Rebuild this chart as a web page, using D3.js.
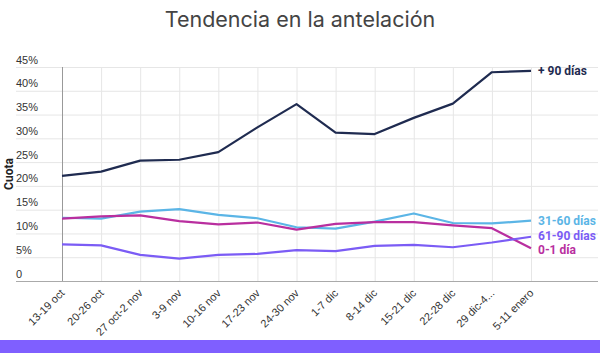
<!DOCTYPE html>
<html lang="es">
<head>
  <meta charset="UTF-8">
  <title>Tendencia en la antelación</title>
  <script src="https://cdn.jsdelivr.net/npm/d3@7"></script>
  <style>
    body { margin: 0; background: #fff; }
    svg { display: block; font-family: Roboto, 'Noto Sans', sans-serif; }
  </style>
</head>
<body>
<svg></svg>
<script>
  const width = 600, height = 353
  const margin = {top: 67, right: 69, bottom: 72, left: 62}

  // semanas
  const weeks = ['13-19 oct', '20-26 oct', '27 oct-2 nov', '3-9 nov', '10-16 nov', '17-23 nov', '24-30 nov',
    '1-7 dic', '8-14 dic', '15-21 dic', '22-28 dic', '29 dic-4...', '5-11 enero']

  // cuota (%) por antelación
  const plus90 = [22.1, 23.0, 25.3, 25.5, 27.1, 32.3, 37.2, 31.2, 30.9, 34.3, 37.3, 43.9, 44.2]
  const d31_60 = [13.3, 13.1, 14.6, 15.1, 13.9, 13.2, 11.3, 11.0, 12.5, 14.2, 12.2, 12.1, 12.7]
  const d0_1 = [13.1, 13.6, 13.8, 12.6, 11.9, 12.3, 10.8, 12.0, 12.4, 12.4, 11.7, 11.1, 6.9]
  const d61_90 = [7.7, 7.5, 5.5, 4.7, 5.5, 5.7, 6.5, 6.3, 7.4, 7.6, 7.1, 8.1, 9.3]

  const yTicks = [0, 5, 10, 15, 20, 25, 30, 35, 40, 45]

  const series = [
    {name: '+ 90 días', values: plus90, color: '#1f2b50'},
    {name: '31-60 días', values: d31_60, color: '#5bb5e6'},
    {name: '0-1 día', values: d0_1, color: '#b92f9f'},
    {name: '61-90 días', values: d61_90, color: '#7b5cf5'}
  ]

  const svg = d3.select('svg')
      .attr('width', width)
      .attr('height', height)
      .attr('viewBox', [0, 0, width, height])

  const x = d3.scalePoint()
      .domain(weeks)
      .range([margin.left, width - margin.right])

  const y = d3.scaleLinear()
      .domain([0, 45])
      .range([height - margin.bottom, margin.top])

  // título
  svg.append('text')
      .attr('x', width / 2)
      .attr('y', 27)
      .attr('text-anchor', 'middle')
      .attr('font-family', 'Inter, sans-serif')
      .attr('font-size', 21.5)
      .attr('fill', '#444')
      .text('Tendencia en la antelación')

  // rejilla horizontal + etiquetas del eje y
  const gy = svg.append('g')
      .attr('transform', `translate(16,0)`)
      .call(d3.axisRight(y).tickValues(yTicks).tickSize(582)
          .tickFormat(d => d === 0 ? '0' : d + '%'))
  gy.select('.domain').remove()
  gy.selectAll('.tick line').attr('stroke', d => d === 0 ? '#aaa' : '#e6e6e6')
  gy.selectAll('.tick text')
      .attr('x', 0)
      .attr('dy', -4)
      .attr('text-anchor', 'start')
      .attr('font-size', 11)
      .attr('fill', '#333')

  // rejilla vertical + etiquetas del eje x
  const gx = svg.append('g')
      .attr('transform', `translate(0,${height - margin.bottom})`)
      .call(d3.axisBottom(x).tickSize(-(height - margin.bottom - margin.top)).tickPadding(0))
  gx.select('.domain').remove()
  gx.selectAll('.tick line').attr('stroke', (d, i) => i === 0 ? '#999' : '#e6e6e6')
  gx.selectAll('.tick text')
      .attr('font-size', 11)
      .attr('fill', '#333')
      .attr('text-anchor', 'end')
      .attr('transform', 'translate(0,10) rotate(-45)')
      .attr('dy', '0.35em')
      .attr('y', 0)

  // título eje y
  svg.append('text')
      .attr('transform', `translate(13,174) rotate(-90)`)
      .attr('text-anchor', 'middle')
      .attr('font-size', 12)
      .attr('font-weight', 'bold')
      .attr('fill', '#222')
      .text('Cuota')

  const line = d3.line()
      .x((d, i) => x(weeks[i]))
      .y(d => y(d))

  svg.append('g')
      .selectAll('path')
      .data(series)
      .join('path')
      .attr('fill', 'none')
      .attr('stroke', d => d.color)
      .attr('stroke-width', 2.2)
      .attr('stroke-linejoin', 'round')
      .attr('d', d => line(d.values))

  // etiquetas al final de cada línea
  const labelY = {'+ 90 días': 44.2, '31-60 días': 12.7, '61-90 días': 9.5, '0-1 día': 6.6}
  svg.append('g')
      .selectAll('text')
      .data(series)
      .join('text')
      .attr('x', x(weeks[weeks.length - 1]) + 7)
      .attr('y', d => y(labelY[d.name]))
      .attr('dy', '0.35em')
      .attr('font-size', 12)
      .attr('font-weight', 'bold')
      .attr('fill', d => d.color)
      .text(d => d.name)

  // banda inferior
  svg.append('rect')
      .attr('x', 0)
      .attr('y', 340)
      .attr('width', width)
      .attr('height', height - 340)
      .attr('fill', '#7f5fff')
</script>
</body>
</html>
